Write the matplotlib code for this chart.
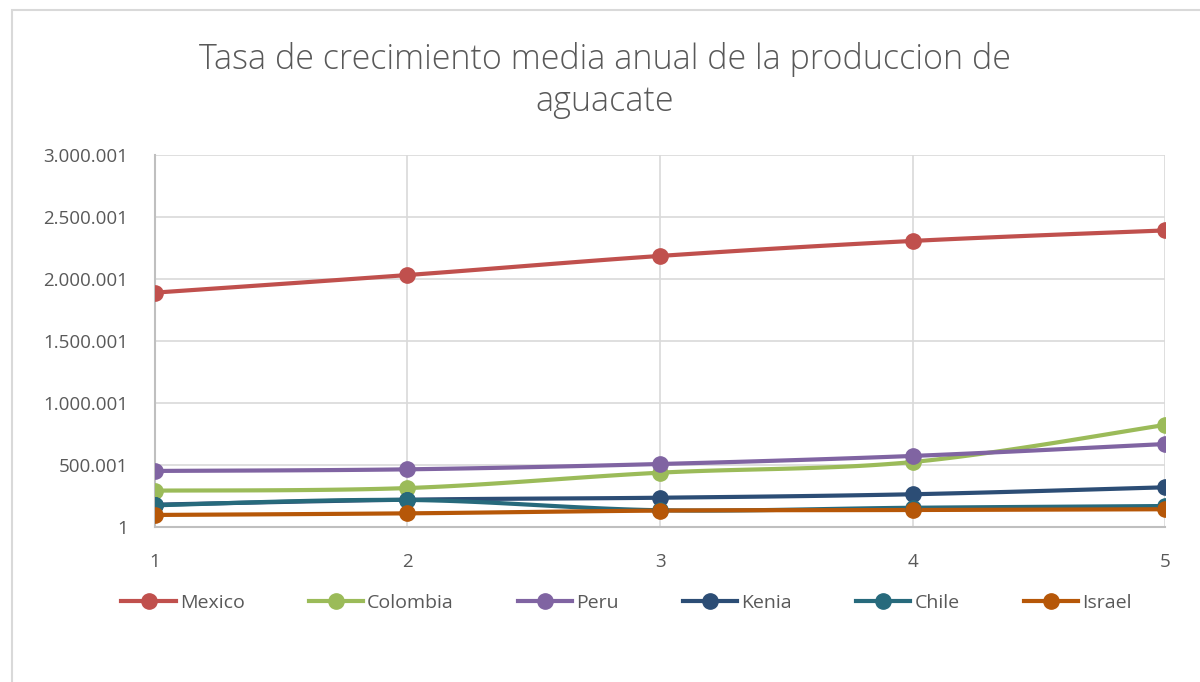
import numpy as np
import matplotlib
matplotlib.use("Agg")
import matplotlib.pyplot as plt
from matplotlib.patches import Rectangle
from matplotlib.ticker import FuncFormatter

# datos
periodos = [1, 2, 3, 4, 5]
paises = ["Mexico", "Colombia", "Peru", "Kenia", "Chile", "Israel"]
mexico = [1890000, 2032000, 2186000, 2307000, 2392000]
colombia = [293000, 314000, 438000, 524000, 823000]
peru = [452000, 465000, 508000, 573000, 669000]
kenia = [180000, 220000, 236000, 264000, 320000]
chile = [175000, 218000, 135000, 155000, 169000]
israel = [97000, 110000, 132000, 137000, 143000]
colores = ["#C0504D", "#9BBB59", "#8064A2", "#2C4D75", "#276A7C", "#B65708"]
series = [mexico, colombia, peru, kenia, chile, israel]


def suavizar(x, y, n=30):
    # curva tipo Catmull-Rom (como la linea suavizada de Excel)
    x = np.asarray(x, float)
    y = np.asarray(y, float)
    px, py = [], []
    for i in range(len(x) - 1):
        x0, y0 = (x[i - 1], y[i - 1]) if i > 0 else (x[i], y[i])
        x3, y3 = (x[i + 2], y[i + 2]) if i + 2 < len(x) else (x[i + 1], y[i + 1])
        x1, y1, x2, y2 = x[i], y[i], x[i + 1], y[i + 1]
        c1x, c1y = x1 + (x2 - x0) / 6, y1 + (y2 - y0) / 6
        c2x, c2y = x2 - (x3 - x1) / 6, y2 - (y3 - y1) / 6
        t = np.linspace(0, 1, n)
        a, b, c, d = (1 - t) ** 3, 3 * (1 - t) ** 2 * t, 3 * (1 - t) * t ** 2, t ** 3
        px.extend(a * x1 + b * c1x + c * c2x + d * x2)
        py.extend(a * y1 + b * c1y + c * c2y + d * y2)
    return px, py


plt.rcParams['font.family'] = ['Open Sans', 'DejaVu Sans']
gris = "#595959"

fig = plt.figure(figsize=(12, 6.82), dpi=100)
fig.patches.append(Rectangle((0.01, -0.1), 1.2, 1.085, transform=fig.transFigure,
                             fill=False, edgecolor="#D9D9D9", linewidth=1.5))
ax = fig.add_axes([0.129, 0.2273, 0.842, 0.5454])

for nombre, vals, col in zip(paises, series, colores):
    sx, sy = suavizar(periodos, vals)
    ax.plot(sx, sy, color=col, linewidth=3, solid_capstyle="round", zorder=3)
    ax.plot(periodos, vals, linestyle="none", marker="o", markersize=11,
            color=col, zorder=4)
    ax.plot([], [], color=col, linewidth=3, marker="o", markersize=11, label=nombre)

ax.set_xlim(1, 5)
ax.set_ylim(1, 3000001)
ax.set_xticks(periodos)
ax.set_yticks(np.arange(1, 3000002, 500000))
ax.yaxis.set_major_formatter(FuncFormatter(lambda v, p: f"{int(round(v)):,}".replace(",", ".")))
ax.grid(True, color="#D9D9D9", linewidth=1.2, zorder=0)
for s in ["top", "right"]:
    ax.spines[s].set_visible(False)
for s in ["left", "bottom"]:
    ax.spines[s].set_color("#BFBFBF")
    ax.spines[s].set_linewidth(1.5)
ax.tick_params(length=0, labelsize=13.5, labelcolor=gris)
ax.tick_params(axis="y", pad=19)
ax.tick_params(axis="x", pad=19)

fig.text(0.504, 0.882, "Tasa de crecimiento media anual de la produccion de\naguacate",
         ha="center", va="center", fontsize=24.5, color=gris, fontweight="light",
         linespacing=1.3)

fig.legend(loc="center", bbox_to_anchor=(0.522, 0.116), ncol=6, frameon=False,
           fontsize=14, labelcolor=gris, handlelength=2.8, handletextpad=0.2,
           columnspacing=3.3)

fig.savefig("out.png", dpi=100)
